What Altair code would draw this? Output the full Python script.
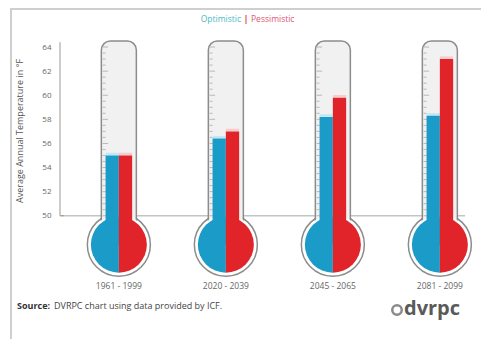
import altair as alt
import numpy as np
import pandas as pd

# Mean annual temperature (°F) per period under the two emission scenarios
periods = ["1961 - 1999", "2020 - 2039", "2045 - 2065", "2081 - 2099"]
optimistic = [55.0, 56.4, 58.2, 58.3]
pessimistic = [55.0, 57.0, 59.8, 63.0]
slot = [1, 2, 3, 4]
y_ticks = [50, 52, 54, 56, 58, 60, 62, 64]

BLUE = "#1b9bc7"
RED = "#e0242a"
OUTLINE = "#8c8c8c"
TUBE = "#f1f1f1"
FONT = "Open Sans"

W, H = 405, 241
X_DOM = [0.45, 0.45 + W / 107]
Y_DOM = [44.5, 64.5]
PX = W / (X_DOM[1] - X_DOM[0])  # pixels per thermometer slot
BULB_Y = 47.6                    # bulb centre, in °F units
TUBE_TOP = 64.5

xs = alt.Scale(domain=X_DOM, nice=False, zero=False)
ys = alt.Scale(domain=Y_DOM, nice=False, zero=False)
YAX = alt.Axis(values=y_ticks, title=None, domain=False, ticks=False, grid=False,
               labelColor="#666666", labelFontSize=8, labelFont=FONT, labelPadding=9)

half_tube = 17.5 / PX
half_bar = 13.3 / PX

df = pd.DataFrame({"period": periods, "opt": optimistic, "pes": pessimistic, "slot": slot})
df["tube_l"] = df["slot"] - half_tube
df["tube_r"] = df["slot"] + half_tube
df["bar_l"] = df["slot"] - half_bar
df["bar_r"] = df["slot"] + half_bar
df["bulb"] = BULB_Y
df["top"] = TUBE_TOP
df["opt_halo"] = df["opt"] + 0.22
df["pes_halo"] = df["pes"] + 0.22

# Scale marks printed along the left side of each tube
rows = []
for s in slot:
    for v in np.arange(50, 64.01, 0.5):
        x0 = s - half_tube + 1.2 / PX
        rows.append({"t": v, "x0": x0, "x1": x0 + (5.5 if v % 2 == 0 else 3.0) / PX})
ticks = pd.DataFrame(rows)

frame = pd.DataFrame({"k": [0]})
base = alt.Chart(df)


def X(f):
    return alt.X(f"{f}:Q", scale=xs, axis=None)


def Y(f):
    return alt.Y(f"{f}:Q", scale=ys, axis=YAX)


border = alt.Chart(frame).mark_rule(color="#cfcfcf", strokeWidth=2).encode(
    x=alt.value(-49), y=alt.value(-32), y2=alt.value(300))
border_top = alt.Chart(frame).mark_rule(color="#cfcfcf", strokeWidth=2).encode(
    x=alt.value(-50), x2=alt.value(425), y=alt.value(-32))

axis_line = alt.Chart(pd.DataFrame({"x": [X_DOM[0]], "a": [50], "b": [64.4]})).mark_rule(
    color="#999999", strokeWidth=1).encode(x=X("x"), y=Y("a"), y2="b:Q")
axis_tick = alt.Chart(pd.DataFrame({"x": [X_DOM[0]], "x2": [X_DOM[0] + 4 / PX], "a": [50]})).mark_rule(
    color="#999999").encode(x=X("x"), x2="x2:Q", y=Y("a"))
baseline = alt.Chart(pd.DataFrame({"x": [X_DOM[0]], "x2": [X_DOM[1]], "a": [50]})).mark_rule(
    color="#c4c4c4", strokeWidth=1.5).encode(x=X("x"), x2="x2:Q", y=Y("a"))

bulb_ring = base.mark_point(shape="circle", filled=True, fill="white", stroke=OUTLINE,
                            strokeWidth=1.5, size=(2 * 31.5) ** 2, opacity=1).encode(
    x=X("slot"), y=Y("bulb"))
tube = base.mark_bar(fill=TUBE, stroke=OUTLINE, strokeWidth=1.5,
                     cornerRadiusTopLeft=9, cornerRadiusTopRight=9).encode(
    x=X("tube_l"), x2="tube_r:Q", y=Y("bulb"), y2="top:Q")
bulb_mask = base.mark_point(shape="circle", filled=True, fill="white", strokeWidth=0,
                            size=(2 * 30.0) ** 2, opacity=1).encode(x=X("slot"), y=Y("bulb"))
tick_marks = alt.Chart(ticks).mark_rule(color="#b8b8b8", strokeWidth=1).encode(
    x=X("x0"), x2="x1:Q", y=Y("t"))

bulb_blue = base.mark_arc(radius=28, theta=np.pi, theta2=2 * np.pi, fill=BLUE).encode(
    x=X("slot"), y=Y("bulb"))
bulb_red = base.mark_arc(radius=28, theta=0, theta2=np.pi, fill=RED).encode(
    x=X("slot"), y=Y("bulb"))

halo_blue = base.mark_bar(fill="#c4e8f3").encode(x=X("bar_l"), x2="slot:Q", y=Y("opt"), y2="opt_halo:Q")
halo_red = base.mark_bar(fill="#f7cccc").encode(x=X("slot"), x2="bar_r:Q", y=Y("pes"), y2="pes_halo:Q")
bar_blue = base.mark_bar(fill=BLUE).encode(x=X("bar_l"), x2="slot:Q", y=Y("bulb"), y2="opt:Q")
bar_red = base.mark_bar(fill=RED).encode(x=X("slot"), x2="bar_r:Q", y=Y("bulb"), y2="pes:Q")

period_labels = base.mark_text(font=FONT, fontSize=8.5, color="#666666", baseline="middle").encode(
    x=X("slot"), y=alt.value(245), text="period:N")

y_title = alt.Chart(frame).mark_text(
    text="Average Annual Temperature in °F", angle=270, font=FONT, fontSize=9,
    color="#555555", align="center", baseline="middle").encode(x=alt.value(-40), y=alt.value(90))

leg_opt = alt.Chart(frame).mark_text(text="Optimistic", font=FONT, fontSize=8.5, color="#4bbac9",
                                     align="right", baseline="middle").encode(x=alt.value(181), y=alt.value(-22))
leg_bar = alt.Chart(frame).mark_text(text="|", font=FONT, fontSize=9, fontWeight="bold", color="#d9445c",
                                     align="center", baseline="middle").encode(x=alt.value(186), y=alt.value(-22))
leg_pes = alt.Chart(frame).mark_text(text="Pessimistic", font=FONT, fontSize=8.5, color="#e0566f",
                                     align="left", baseline="middle").encode(x=alt.value(191), y=alt.value(-22))

src_bold = alt.Chart(frame).mark_text(text="Source:", font=FONT, fontSize=9, fontWeight="bold",
                                      color="#333333", align="left", baseline="middle").encode(
    x=alt.value(-43), y=alt.value(265))
src_rest = alt.Chart(frame).mark_text(text="DVRPC chart using data provided by ICF.", font=FONT,
                                      fontSize=9, color="#444444", align="left", baseline="middle").encode(
    x=alt.value(-6), y=alt.value(265))

logo_ring = alt.Chart(frame).mark_point(shape="circle", filled=False, stroke="#5a5a5a", strokeWidth=2.5,
                                        size=90).encode(x=alt.value(337), y=alt.value(269))
logo_text = alt.Chart(frame).mark_text(text="dvrpc", font=FONT, fontSize=20, fontWeight="bold",
                                       color="#5a5a5a", align="left", baseline="middle").encode(
    x=alt.value(344), y=alt.value(268))

chart = alt.layer(
    border, border_top, baseline, axis_line, axis_tick,
    bulb_ring, tube, bulb_mask, tick_marks,
    bulb_blue, bulb_red, halo_blue, halo_red, bar_blue, bar_red,
    period_labels, y_title, leg_opt, leg_bar, leg_pes, src_bold, src_rest, logo_ring, logo_text,
).properties(
    width=W, height=H,
    autosize=alt.AutoSizeParams(type="none"),
    padding={"left": 60, "top": 41, "right": 16, "bottom": 57},
    background="white",
).configure_view(stroke=None)

chart.save("out.html", embed_options={"renderer": "svg", "actions": False})
